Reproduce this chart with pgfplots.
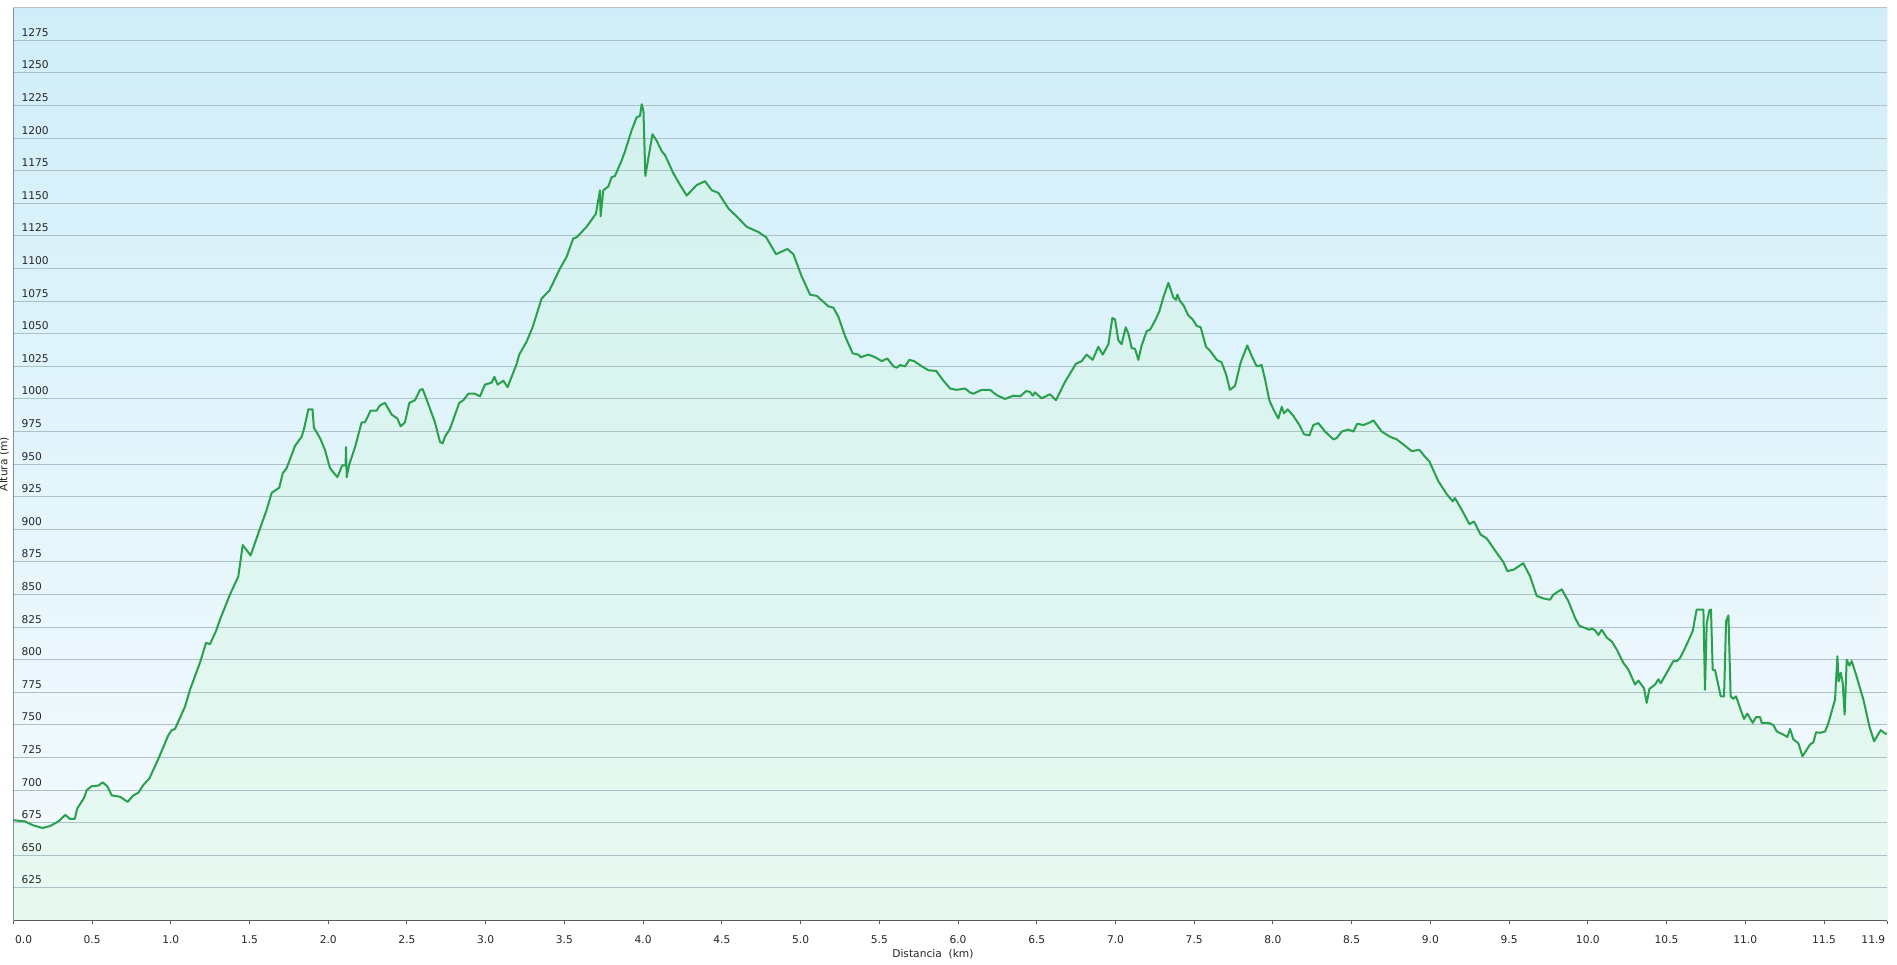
\documentclass[border=0pt]{standalone}
\usepackage{fontspec}
\setmainfont{DejaVu Sans}
\usepackage{pgfplots}
\usepackage{pgfplotstable}
\pgfplotsset{compat=1.18}
\definecolor{bgtop}{RGB}{208,238,249}
\definecolor{bgbot}{RGB}{246,251,254}
\definecolor{filltop}{RGB}{211,241,238}
\definecolor{fillbot}{RGB}{232,249,241}
\definecolor{linegreen}{RGB}{40,160,76}
\definecolor{gridc}{RGB}{172,192,200}
\definecolor{axisdark}{RGB}{90,90,90}
\definecolor{axislight}{RGB}{185,192,198}

\pgfplotstableread{
x y
0.000 677
0.074 676
0.127 673
0.186 671
0.233 672.5
0.286 676
0.330 681
0.360 678
0.390 678
0.406 686
0.449 694
0.466 700
0.497 703
0.540 703.5
0.567 706
0.597 703
0.625 696
0.677 695
0.726 691
0.762 696
0.794 698
0.826 704
0.864 709
0.921 724
0.984 742
1.006 746
1.027 747
1.090 764
1.122 777
1.186 798
1.224 813
1.249 812
1.287 822
1.313 831
1.376 850
1.429 864
1.457 888
1.507 880
1.556 897
1.609 915
1.641 928
1.689 932
1.711 943
1.736 947
1.789 964
1.831 971
1.846 977
1.874 992
1.900 992
1.909 978
1.948 970
1.979 961
2.011 947
2.058 940
2.089 949
2.110 949
2.113 963
2.117 940
2.134 950
2.170 963
2.212 982
2.233 982
2.269 991
2.307 991
2.328 995
2.360 997
2.403 988
2.439 985
2.460 979
2.487 982
2.515 997
2.551 999
2.583 1007
2.600 1007.5
2.636 996
2.678 982
2.710 967
2.727 966
2.741 971
2.773 977
2.832 997
2.858 999
2.890 1004
2.932 1004
2.964 1002
2.995 1011
3.038 1012.5
3.055 1017
3.076 1011
3.112 1014
3.139 1009
3.197 1027
3.213 1034
3.260 1044
3.298 1055
3.355 1077
3.404 1083
3.472 1100
3.514 1109
3.556 1123
3.578 1124
3.641 1132
3.700 1142
3.726 1160
3.730 1140
3.747 1160
3.779 1163
3.800 1170
3.821 1171
3.864 1183
3.885 1190
3.906 1198
3.927 1206
3.959 1216
3.980 1217
3.991 1226
4.002 1221
4.014 1171
4.059 1203
4.086 1198
4.118 1190
4.139 1187
4.192 1173
4.235 1164
4.277 1156
4.340 1164
4.393 1167
4.436 1160
4.478 1158
4.542 1146
4.594 1140
4.658 1132
4.732 1128
4.781 1124
4.844 1111
4.916 1115
4.954 1111
5.007 1094
5.060 1080
5.103 1079
5.177 1071
5.208 1070
5.240 1063
5.283 1048
5.331 1035
5.367 1034
5.382 1032
5.431 1034
5.473 1032
5.515 1029
5.551 1031
5.590 1025
5.611 1024
5.632 1026
5.663 1025
5.691 1030
5.721 1029
5.770 1025
5.812 1022
5.861 1021.5
5.907 1014
5.950 1008
5.991 1007
6.044 1008
6.076 1005
6.097 1004
6.150 1007
6.203 1007
6.245 1003
6.298 1000
6.351 1002.5
6.394 1002
6.432 1006
6.457 1005.5
6.474 1002.5
6.489 1005
6.531 1000.5
6.584 1003.6
6.622 999
6.679 1013
6.749 1027
6.785 1029
6.817 1034
6.855 1030
6.891 1040
6.919 1034
6.955 1042
6.980 1062
6.997 1061
7.018 1045
7.039 1042
7.065 1055
7.082 1050
7.103 1039
7.124 1038.5
7.145 1030
7.166 1041
7.198 1052
7.219 1053
7.251 1060
7.278 1067
7.304 1078
7.336 1089
7.367 1078
7.384 1076
7.393 1080
7.410 1075
7.431 1072
7.463 1064
7.490 1061
7.516 1056
7.541 1055
7.575 1040
7.600 1037
7.643 1030
7.674 1028
7.702 1019
7.727 1007
7.759 1010
7.795 1028
7.837 1041
7.865 1033
7.897 1025
7.928 1026
7.950 1015
7.977 999
8.003 992
8.034 985
8.056 994
8.070 989
8.094 992
8.130 987
8.168 980
8.197 973
8.231 972
8.257 980
8.288 981.5
8.331 975
8.384 969
8.405 970
8.437 975
8.479 976.5
8.511 975
8.536 981
8.574 980
8.617 982
8.638 983.6
8.691 975
8.744 971
8.786 969
8.829 965
8.881 960
8.930 961
8.960 956.5
8.994 952
9.050 937
9.104 927
9.142 921.5
9.156 924
9.199 915
9.248 904
9.277 906
9.319 896
9.358 893
9.421 882
9.463 875
9.489 868
9.527 869
9.590 874
9.633 864
9.675 849
9.718 847
9.760 846
9.781 850
9.834 854
9.876 845
9.919 832
9.946 826
9.982 824.4
10.010 823
10.025 824
10.046 822.6
10.067 819
10.088 823
10.120 817
10.152 814
10.183 808
10.226 797.6
10.257 792.5
10.300 781
10.321 784
10.357 778
10.374 767
10.391 777.7
10.427 781
10.448 785
10.463 782
10.501 790
10.543 799
10.565 799
10.586 801.4
10.628 811.7
10.666 822
10.691 838.5
10.734 838.5
10.744 777
10.755 828
10.772 838
10.782 838.5
10.793 792.5
10.808 792
10.835 777
10.844 772
10.865 772
10.878 829.5
10.893 834
10.907 772
10.924 770
10.941 772
10.967 763
10.992 754.6
11.013 758.7
11.047 751.6
11.068 756
11.094 756
11.104 751.6
11.147 751.6
11.178 750
11.200 745
11.242 742.6
11.267 740.8
11.284 747
11.305 739
11.337 736
11.363 726
11.390 731
11.411 735
11.432 736.7
11.450 744.4
11.475 744
11.507 745
11.528 751.6
11.570 769.5
11.585 802.7
11.593 783.5
11.606 790
11.619 782
11.631 758
11.644 800
11.661 795.5
11.676 799
11.703 788.7
11.750 769.5
11.788 749
11.818 737.5
11.860 746
11.888 743.4
11.900 743.4
}\profile

\begin{document}
\begin{tikzpicture}
\begin{axis}[
  set layers,
  scale only axis,
  width=1405.5pt, height=684.75pt,
  xmin=0, xmax=11.9, ymin=600, ymax=1300,
  axis background/.style={top color=bgtop, bottom color=bgbot},
  axis line style={draw=none},
  ymajorgrids,
  grid style={gridc, line width=0.75pt},
  ytick={625,650,...,1275},
  xtick={0,0.5,1,1.5,2,2.5,3,3.5,4,4.5,5,5.5,6,6.5,7,7.5,8,8.5,9,9.5,10,10.5,11,11.5,11.9},
  xticklabels={\makebox[0pt][l]{\,0.0},0.5,1.0,1.5,2.0,2.5,3.0,3.5,4.0,4.5,5.0,5.5,6.0,6.5,7.0,7.5,8.0,8.5,9.0,9.5,10.0,10.5,11.0,11.5,\makebox[0pt][r]{11.9\,}},
  xtick pos=bottom,
  xtick align=outside,
  major tick length=2.8pt,
  xtick style={axisdark, line width=0.75pt},
  ytick style={draw=none},
  /pgf/number format/assume math mode=true,
  tick label style={font=\fontsize{8}{9.6}\selectfont, text=black!85},
  xticklabel style={anchor=base, inner sep=0pt, yshift=-14.5pt},
  yticklabel style={anchor=base west, inner sep=0pt, xshift=6pt, yshift=3pt, /pgf/number format/.cd, 1000 sep={}},
  xlabel={Distancia\ \ (km)},
  ylabel={Altura (m)},
  xlabel style={at={(axis description cs:0.4908,-0.0409)}, anchor=base, inner sep=0pt, font=\fontsize{8}{9.6}\selectfont, text=black!85},
  ylabel style={at={(axis description cs:-0.005,0.5)}, anchor=center, inner sep=0pt, font=\fontsize{8}{9.6}\selectfont, text=black!85},
]
\addplot [on layer=axis background, draw=none, top color=filltop, bottom color=fillbot] table {\profile} \closedcycle;
\addplot [linegreen, line width=1.5pt, mark=none, line join=round] table {\profile};
\draw[axislight, line width=0.75pt] (rel axis cs:0,1) -- (rel axis cs:1,1) -- (rel axis cs:1,0);
\draw[axisdark, line width=0.9pt] (rel axis cs:0,1) -- (rel axis cs:0,0) -- (rel axis cs:1,0);
\end{axis}
\pgfresetboundingbox
\path (-10pt,-33.2pt) rectangle (1413pt,690.55pt);
\end{tikzpicture}
\end{document}
